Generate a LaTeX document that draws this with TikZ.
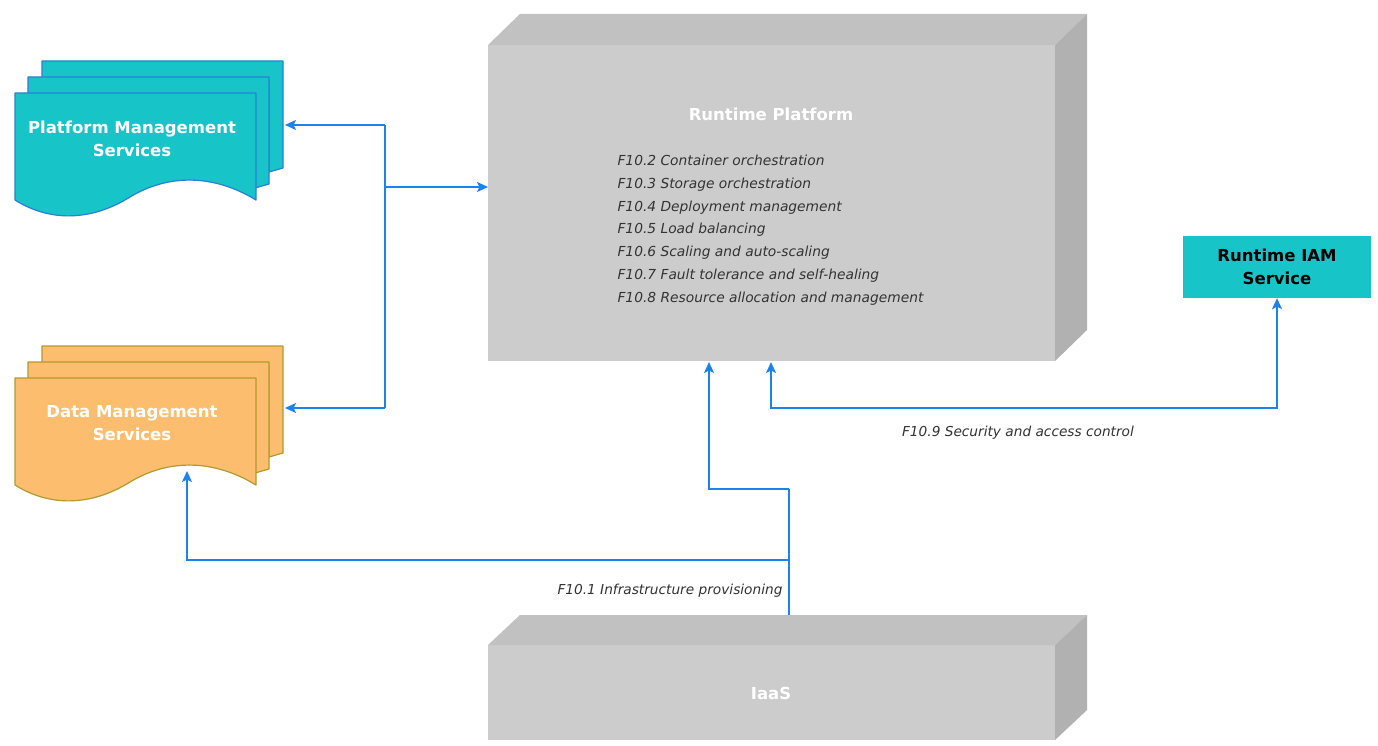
\documentclass[tikz,border=0pt]{standalone}
\usepackage{fontspec}
\setmainfont{DejaVu Sans}
\usetikzlibrary{arrows.meta,calc}
\definecolor{cyanfill}{HTML}{17C4C8}
\definecolor{cyanedge}{HTML}{2A7FD6}
\definecolor{orfill}{HTML}{FCBE6E}
\definecolor{oredge}{HTML}{B39A2C}
\definecolor{frontgrey}{HTML}{CCCCCC}
\definecolor{topgrey}{HTML}{C1C1C1}
\definecolor{sidegrey}{HTML}{B1B1B1}
\definecolor{arrowblue}{HTML}{1C82EE}
\definecolor{txtgrey}{HTML}{333333}
\newcommand\docpage[4]{%
  \begin{scope}[shift={(#1,#2)}]
    \filldraw[fill=#3,draw=#4,line width=1.2pt,line join=round]
      (0,0) -- (241,0) -- (241,107)
      .. controls (200,82) and (155,80) .. (115,104)
      .. controls (80,126) and (38,131) .. (0,107) -- cycle;
  \end{scope}}
\newcommand\backpage[4]{%
  \begin{scope}[shift={(#1,#2)}]
    \filldraw[fill=#3,draw=#4,line width=1.2pt,line join=round]
      (0,20) -- (0,0) -- (241,0) -- (241,107) -- (227,111) -- (227,20) -- cycle;
  \end{scope}}
\begin{document}
\begin{tikzpicture}[x=1pt,y=-1pt,
  arr/.style={draw=arrowblue,line width=1.4pt,-{Stealth[length=11pt,width=10pt,inset=2.5pt]}},
  biarr/.style={draw=arrowblue,line width=1.4pt,{Stealth[length=11pt,width=10pt,inset=2.5pt]}-{Stealth[length=11pt,width=10pt,inset=2.5pt]}},
  plain/.style={draw=arrowblue,line width=1.4pt},
  face/.style={inner sep=0pt,outer sep=0pt,fill=frontgrey},
  title/.style={font=\fontsize{16.5}{23}\selectfont\bfseries,text=white,align=center},
  lbl/.style={font=\fontsize{13.7}{16}\selectfont\itshape,text=txtgrey},
  area/.style={inner sep=0pt,outer sep=0pt}
]
\useasboundingbox[fill=white] (0,0) rectangle (1378,746);

% Runtime Platform 3D box
\node[face,minimum width=567pt,minimum height=316pt,anchor=north west] (rp) at (488,45) {};
\fill[topgrey] (rp.north west) -- ++(32,-31) -- ($(rp.north east)+(32,-31)$) -- (rp.north east) -- cycle;
\fill[sidegrey] (rp.north east) -- ++(32,-31) -- ($(rp.south east)+(32,-31)$) -- (rp.south east) -- cycle;
\node[title] (rptitle) at (771,114) {Runtime Platform};
\node[lbl,font=\fontsize{13.8}{22.8}\selectfont\itshape,align=left,anchor=north west] (rplist) at (614,151.5)
  {F10.2 Container orchestration\\
   F10.3 Storage orchestration\\
   F10.4 Deployment management\\
   F10.5 Load balancing\\
   F10.6 Scaling and auto-scaling\\
   F10.7 Fault tolerance and self-healing\\
   F10.8 Resource allocation and management};

% IaaS 3D box
\node[face,minimum width=567pt,minimum height=95pt,anchor=north west] (iaas) at (488,645) {};
\fill[topgrey] (iaas.north west) -- ++(32,-30) -- ($(iaas.north east)+(32,-30)$) -- (iaas.north east) -- cycle;
\fill[sidegrey] (iaas.north east) -- ++(32,-30) -- ($(iaas.south east)+(32,-30)$) -- (iaas.south east) -- cycle;
\node[title] (iaastitle) at (771,693) {IaaS};

% Platform Management Services (multi-document)
\backpage{42}{61}{cyanfill}{cyanedge}
\backpage{28}{77}{cyanfill}{cyanedge}
\docpage{15}{93}{cyanfill}{cyanedge}
\node[area,minimum width=270pt,minimum height=157pt,anchor=north west] (pms) at (15,61) {};
\node[title] (pmstext) at (132,139) {Platform Management\\Services};

% Data Management Services (multi-document)
\backpage{42}{346}{orfill}{oredge}
\backpage{28}{362}{orfill}{oredge}
\docpage{15}{378}{orfill}{oredge}
\node[area,minimum width=270pt,minimum height=157pt,anchor=north west] (dms) at (15,346) {};
\node[title] (dmstext) at (132,423) {Data Management\\Services};

% Runtime IAM Service
\node[fill=cyanfill,inner sep=0pt,minimum width=188pt,minimum height=62pt,align=center,
      font=\fontsize{16.5}{23}\selectfont\bfseries,text=black] (iam) at (1277,267) {Runtime IAM\\Service};

% connectors
\coordinate (hubT) at (385,125);
\coordinate (hubM) at (385,187);
\coordinate (hubB) at (385,408);
\draw[plain] (hubT) -- (hubB);
\draw[arr] (hubM) -- (rp.west |- hubM);
\draw[arr] (hubT) -- (pms.east |- hubT);
\draw[arr] (hubB) -- (dms.east |- hubB);

\coordinate (iaastop) at (789,615);
\coordinate (split1) at (789,560);
\coordinate (split2) at (789,489);
\coordinate (dmsbot) at (187,471);
\draw[plain] (iaastop) -- (split2);
\draw[arr] (split1) -| (dmsbot);
\draw[arr] (split2) -| ($(rp.south west)+(221,1)$);
\node[lbl,anchor=east] (f101) at (786,591) {F10.1 Infrastructure provisioning};

\coordinate (secL) at (771,408);
\draw[biarr] ($(rp.south west)+(283,1)$) -- (secL) -| (iam.south);
\node[lbl] (f109) at (1018,433) {F10.9 Security and access control};
\end{tikzpicture}
\end{document}
